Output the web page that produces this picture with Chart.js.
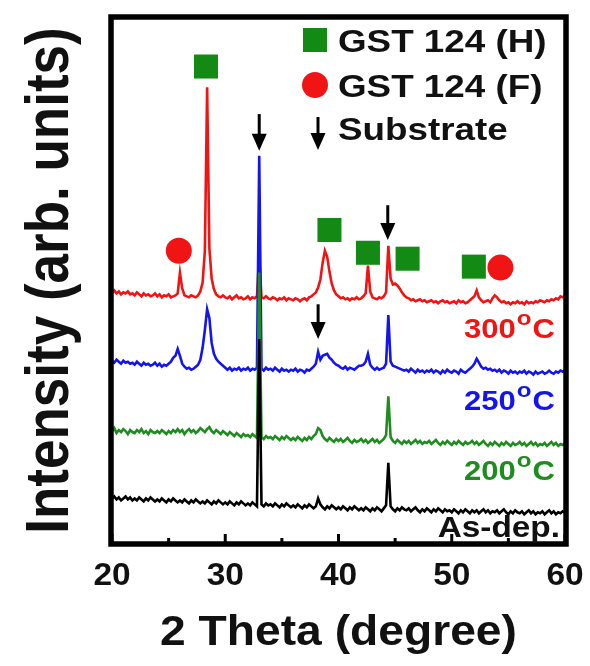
<!DOCTYPE html>
<html>
<head>
<meta charset="utf-8">
<script src="https://cdn.jsdelivr.net/npm/chart.js@4.4.0/dist/chart.umd.min.js"></script>
<style>
  html, body { margin:0; padding:0; background:#fff; }
  #wrap { width:590px; height:666px; position:relative; }
</style>
</head>
<body>
<div id="wrap"><canvas id="xrd"></canvas></div>
<script>
/* ── DATA ── 2θ grid 20..60 step 0.2, intensities in arb. units */
const THETA_MIN  = 20;
const THETA_MAX  = 60;
const THETA_STEP = 0.2;
const X_TICKS    = [20, 30, 40, 50, 60];
const X_MINOR    = [25, 35, 45, 55];

const I_300 = [
  254,256,253,255,252,254,253,255,252,253,
  251,254,252,250,253,251,252,250,251,253,
  250,252,249,251,250,252,249,250,251,253,
  274,258,251,250,249,251,250,249,251,255,
  264,296,461,298,268,257,252,250,249,251,
  249,248,250,247,249,251,248,249,247,248,
  250,247,249,248,250,290,249,248,250,248,
  247,249,248,246,248,247,249,246,248,247,
  246,248,247,245,247,248,246,249,250,252,
  254,259,267,284,296,290,275,263,256,252,
  250,248,249,247,248,246,248,247,249,247,
  248,250,253,281,255,249,248,247,249,248,
  250,254,301,268,262,263,261,258,254,251,
  249,248,246,247,245,246,247,245,246,244,
  245,246,244,245,243,245,246,244,245,243,
  244,245,243,246,244,245,243,244,246,248,
  250,256,249,246,244,245,246,244,248,251,
  249,246,244,245,243,244,242,244,243,245,
  243,244,242,245,243,244,243,245,244,246,
  245,244,246,245,247,246,248,247,250,249,251
];
const I_250 = [
  185,183,186,184,182,185,183,184,182,183,
  181,184,182,180,183,181,182,180,181,183,
  180,182,179,181,180,182,184,188,190,197,
  190,182,179,177,178,176,177,179,181,186,
  198,216,237,228,203,192,187,184,182,180,
  178,176,178,175,177,176,178,175,177,176,
  178,175,177,176,178,392,177,175,178,176,
  177,175,178,176,174,177,175,176,174,176,
  175,177,174,176,175,173,176,175,177,179,
  182,194,186,190,191,192,188,186,183,181,
  180,178,177,179,176,178,177,176,178,180,
  180,181,184,192,181,178,176,178,176,177,
  178,182,231,184,180,179,178,177,176,175,
  176,174,177,175,173,176,174,175,173,175,
  174,176,173,175,174,172,175,173,176,174,
  173,175,174,172,176,174,173,175,177,179,
  182,187,183,179,177,178,176,177,175,176,
  174,176,173,175,174,172,175,173,174,172,
  174,173,175,172,174,173,171,174,172,173,
  174,172,173,175,173,172,174,173,175,174,176
];
const I_200 = [
  114,117,112,115,113,116,114,111,115,113,
  112,115,113,116,112,114,111,115,113,112,
  114,112,115,113,111,114,112,115,113,116,
  113,115,111,114,116,113,115,112,114,117,
  115,113,116,118,114,112,115,113,111,114,
  112,110,113,111,109,112,110,108,111,109,
  110,108,111,109,107,274,108,106,109,107,
  108,106,109,107,105,108,106,109,107,105,
  107,105,108,106,104,107,105,108,106,109,
  111,117,115,109,106,104,107,105,103,106,
  104,106,103,105,107,104,102,105,103,104,
  106,103,105,102,104,106,103,105,102,104,
  106,110,149,108,104,102,105,103,101,104,
  102,104,101,103,105,102,104,101,103,102,
  104,101,103,105,102,100,103,101,104,102,
  100,103,101,104,102,100,103,101,102,104,
  101,103,100,102,104,101,99,102,100,103,
  101,99,102,100,103,101,99,102,100,101,
  103,100,102,99,101,103,100,102,99,101,
  100,102,99,101,103,100,102,99,101,100,102
];
const I_ASDEP = [
  46,48,45,47,44,46,48,45,47,44,
  46,44,47,45,43,46,44,47,45,43,
  45,43,46,44,42,45,43,46,44,42,
  44,42,45,43,41,44,42,45,43,41,
  43,41,44,42,40,43,41,44,42,40,
  42,40,43,41,39,42,40,43,41,39,
  41,39,42,40,38,207,40,38,41,39,
  40,38,41,39,37,40,38,41,39,37,
  39,37,40,38,36,39,37,40,38,36,
  38,46,40,37,35,38,36,39,37,35,
  37,35,38,36,34,37,35,38,36,34,
  36,34,37,35,33,36,34,37,35,33,
  36,39,82,38,35,33,36,34,37,35,
  34,36,33,35,37,34,32,35,33,36,
  34,32,35,33,36,34,32,35,33,34,
  32,35,33,31,34,32,35,33,31,34,
  32,34,31,33,35,32,34,31,33,32,
  34,31,33,35,32,30,33,31,34,32,
  31,33,30,32,34,31,33,30,32,31,
  33,30,32,34,31,33,30,32,31,33,32
];

// peak markers: [2θ, intensity]
const MARK_HEX = [[28.3, 482], [39.2, 317], [42.6, 294], [46.1, 288], [51.95, 280]];
const MARK_FCC = [[25.9, 296], [54.3, 279]];
// substrate arrows: [2θ, top, tip]
const MARK_SUB = [[33.0, 434, 397], [44.35, 342, 307], [38.2, 242, 207]];

const LABELS = ['300', '250', '200', 'As-dep.'];

const THETA = I_300.map((_, i) => +(THETA_MIN + i * THETA_STEP).toFixed(1));
const pts = arr => arr.map((v, i) => ({ x: THETA[i], y: v }));
const mk  = arr => arr.map(([x, y]) => ({ x, y }));

const RED = '#f01414', BLUE = '#1414ee', GREEN = '#1f8c1f', HEXC = '#138a13';
const FONT = '"Liberation Sans", Arial, sans-serif';

/* ── TEXT HELPER (text in the figure is slightly wide) ── */
function wideText(ctx, str, x, y, size, color, align, sx) {
  ctx.save();
  ctx.font = `bold ${size}px ${FONT}`;
  ctx.fillStyle = color;
  ctx.textBaseline = 'alphabetic';
  ctx.textAlign = 'left';
  const w = ctx.measureText(str).width * sx;
  const x0 = align === 'right' ? x - w : align === 'center' ? x - w / 2 : x;
  ctx.translate(x0, y);
  ctx.scale(sx, 1);
  ctx.fillText(str, 0, 0);
  ctx.restore();
  return w;
}

function tempLabel(ctx, num, color, right, base) {
  const sx = 1.15;
  ctx.save();
  ctx.font = `bold 27px ${FONT}`;
  const wC = ctx.measureText('C').width * sx;
  ctx.font = `bold 21px ${FONT}`;
  const wO = ctx.measureText('o').width * sx;
  ctx.restore();
  wideText(ctx, 'C', right, base, 27, color, 'right', sx);
  wideText(ctx, 'o', right - wC - 1, base - 13, 21, color, 'right', sx);
  wideText(ctx, num, right - wC - wO - 2, base, 27, color, 'right', sx);
}

function arrow(ctx, x, yTop, yTip) {
  ctx.save();
  ctx.strokeStyle = '#000';
  ctx.fillStyle = '#000';
  ctx.lineWidth = 3;
  ctx.beginPath();
  ctx.moveTo(x, yTop);
  ctx.lineTo(x, yTip - 12);
  ctx.stroke();
  ctx.beginPath();
  ctx.moveTo(x - 7.5, yTip - 17);
  ctx.lineTo(x + 7.5, yTip - 17);
  ctx.lineTo(x, yTip);
  ctx.closePath();
  ctx.fill();
  ctx.restore();
}

const decor = {
  id: 'decor',
  afterDatasetsDraw(chart) {
    const { ctx, chartArea: a, scales: { x, y } } = chart;

    // substrate arrows
    MARK_SUB.forEach(([t, top, tip]) => arrow(ctx, x.getPixelForValue(t), y.getPixelForValue(top), y.getPixelForValue(tip)));

    // frame
    ctx.save();
    ctx.strokeStyle = '#000';
    ctx.lineWidth = 5.5;
    ctx.strokeRect(a.left - 1, a.top, a.right - a.left + 2, a.bottom - a.top);
    // inward ticks on the bottom axis
    ctx.lineWidth = 3;
    ctx.beginPath();
    X_TICKS.forEach(t => { const px = x.getPixelForValue(t); ctx.moveTo(px, a.bottom); ctx.lineTo(px, a.bottom - 10); });
    X_MINOR.forEach(t => { const px = x.getPixelForValue(t); ctx.moveTo(px, a.bottom); ctx.lineTo(px, a.bottom - 6); });
    ctx.stroke();
    ctx.restore();

    // tick labels
    x.ticks.forEach(tk => wideText(ctx, String(tk.value), x.getPixelForValue(tk.value), a.bottom + 41, 31, '#111', 'center', 1.08));

    // axis titles
    wideText(ctx, '2 Theta (degree)', (a.left + a.right) / 2, 645, 42, '#111', 'center', 1.1);
    ctx.save();
    ctx.translate(68, (a.top + a.bottom) / 2);
    ctx.rotate(-Math.PI / 2);
    ctx.scale(1, 1.15);
    ctx.font = `bold 53px ${FONT}`;
    ctx.fillStyle = '#111';
    ctx.textAlign = 'center';
    ctx.textBaseline = 'alphabetic';
    ctx.fillText('Intensity (arb. units)', 0, 0);
    ctx.restore();

    // legend
    const lx = a.right - 250;
    ctx.save();
    ctx.fillStyle = HEXC;
    ctx.fillRect(lx - 12, 28, 24, 24);
    ctx.fillStyle = RED;
    ctx.beginPath(); ctx.arc(lx, 85, 13, 0, Math.PI * 2); ctx.fill();
    ctx.restore();
    arrow(ctx, lx + 3, 117, 150);
    wideText(ctx, 'GST 124 (H)', lx + 23, 52, 32, '#111', 'left', 1.15);
    wideText(ctx, 'GST 124 (F)', lx + 23, 97, 32, '#111', 'left', 1.15);
    wideText(ctx, 'Substrate',   lx + 23, 140, 32, '#111', 'left', 1.15);

    // curve labels
    tempLabel(ctx, LABELS[0], RED,   a.right - 10, 338);
    tempLabel(ctx, LABELS[1], BLUE,  a.right - 10, 410);
    tempLabel(ctx, LABELS[2], GREEN, a.right - 10, 480);
    wideText(ctx, LABELS[3], a.right - 5, 537, 29, '#111', 'right', 1.15);
  }
};

const line = (data, color, order) => ({
  type: 'line', data: pts(data), borderColor: color, borderWidth: 2.6,
  pointRadius: 0, tension: 0, order, fill: false
});

new Chart(document.getElementById('xrd'), {
  type: 'line',
  data: {
    datasets: [
      line(I_300,   RED,   4),
      line(I_250,   BLUE,  3),
      line(I_200,   GREEN, 2),
      line(I_ASDEP, '#000', 1),
      { type: 'scatter', data: mk(MARK_HEX), pointStyle: 'rect', pointRadius: 17, backgroundColor: HEXC, borderWidth: 0, order: 0 },
      { type: 'scatter', data: mk(MARK_FCC), pointStyle: 'circle', pointRadius: 13, backgroundColor: RED, borderWidth: 0, order: 0 }
    ]
  },
  options: {
    responsive: true,
    maintainAspectRatio: false,
    animation: false,
    events: [],
    layout: { padding: { left: 112, right: 25, top: 12, bottom: 122 } },
    plugins: { legend: { display: false }, tooltip: { enabled: false } },
    scales: {
      x: { type: 'linear', min: THETA_MIN, max: THETA_MAX, display: false, ticks: { stepSize: 10 } },
      y: { type: 'linear', min: 0, max: 532, display: false }
    }
  },
  plugins: [decor]
});
</script>
</body>
</html>
